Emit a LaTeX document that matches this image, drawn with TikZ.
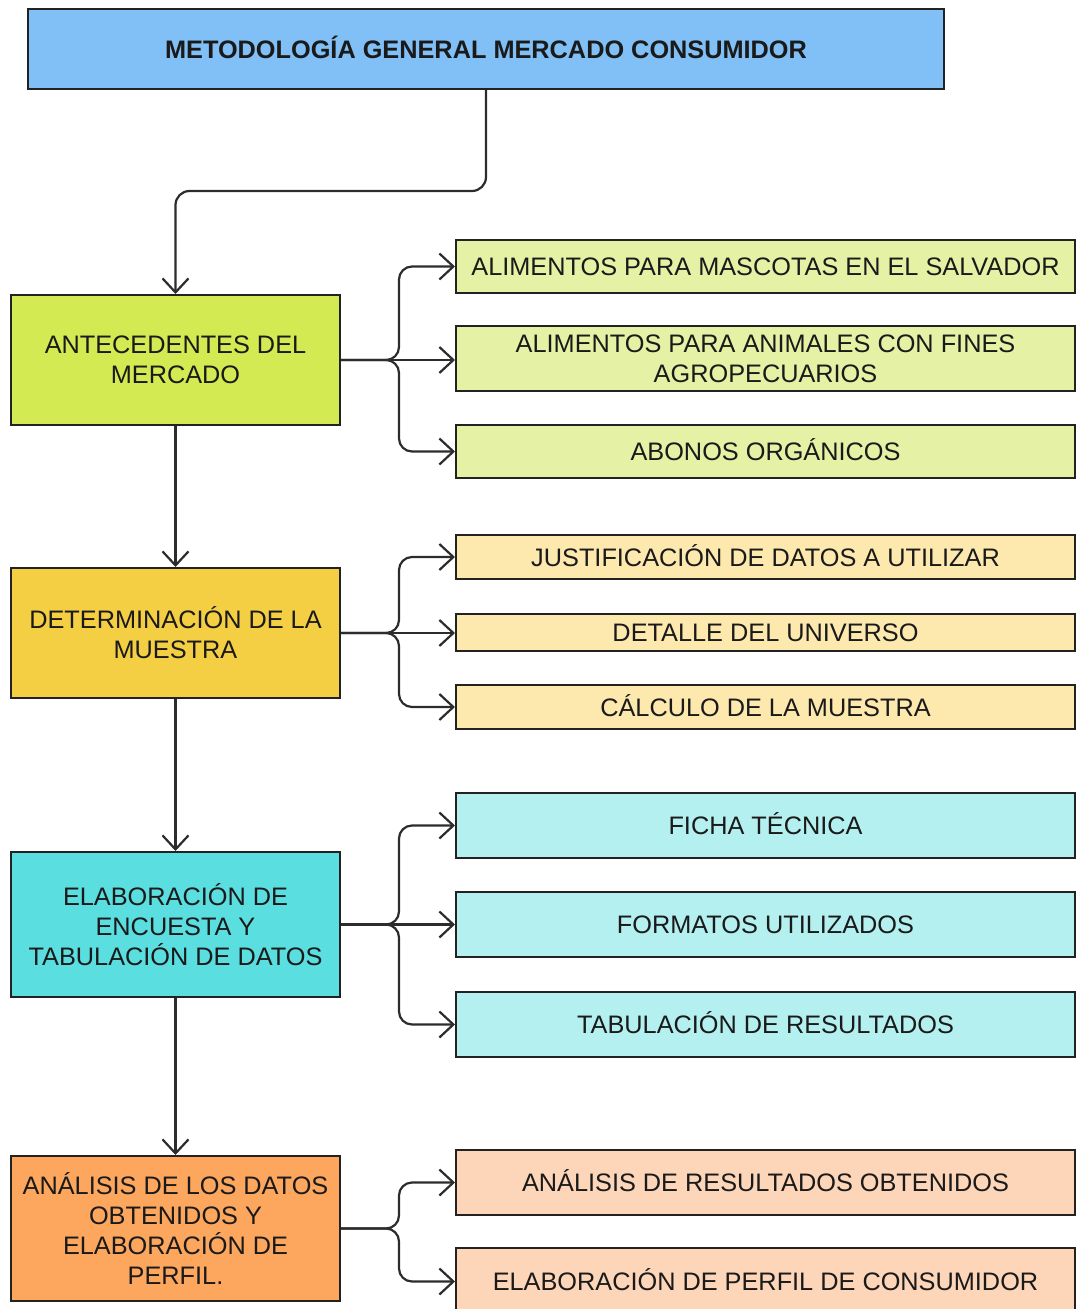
\documentclass[tikz,border=0pt]{standalone}
\usepackage{fontspec}
\setmainfont{Liberation Sans}
\usetikzlibrary{arrows.meta,calc}

\definecolor{ink}{RGB}{26,26,26}
\definecolor{boxline}{RGB}{34,34,34}
\definecolor{wire}{RGB}{44,44,44}
\definecolor{titlefill}{RGB}{128,192,246}
\definecolor{greenA}{RGB}{212,234,82}
\definecolor{greenB}{RGB}{229,242,166}
\definecolor{yellowA}{RGB}{244,207,68}
\definecolor{yellowB}{RGB}{253,233,174}
\definecolor{cyanA}{RGB}{90,222,224}
\definecolor{cyanB}{RGB}{180,240,240}
\definecolor{orangeA}{RGB}{252,166,94}
\definecolor{orangeB}{RGB}{253,214,185}

\begin{document}
\begin{tikzpicture}[x=1pt,y=-1pt,
  box/.style={draw=boxline, line width=2pt, inner sep=0pt, align=center,
    text=ink, font=\fontsize{25.3}{30}\selectfont},
  oneline/.style={text height=18pt, text depth=0pt},
  mainbox/.style={box, minimum width=329pt},
  subbox/.style={box, minimum width=619pt},
  conn/.style={draw=wire, line width=2.2pt,
    -{Straight Barb[length=14pt,width=26pt,line width=2.2pt]}},
  branch/.style={conn, rounded corners=13pt}]
\useasboundingbox (0,0) rectangle (1076,1309);

% title
\node[box, oneline, fill=titlefill, minimum width=916pt, minimum height=80pt,
  font=\fontsize{25.3}{30}\selectfont\bfseries] (title) at (486,49)
  {METODOLOGÍA GENERAL MERCADO CONSUMIDOR};

% main column
\node[mainbox, fill=greenA, minimum height=130pt] (ant) at (175.5,360)
  {ANTECEDENTES DEL\\MERCADO};
\node[mainbox, fill=yellowA, minimum height=130pt] (det) at (175.5,633)
  {DETERMINACIÓN DE LA\\MUESTRA};
\node[mainbox, fill=cyanA, minimum height=145pt] (ela) at (175.5,924.5)
  {ELABORACIÓN DE\\ENCUESTA Y\\TABULACIÓN DE DATOS};
\node[mainbox, fill=orangeA, minimum height=145pt] (ana) at (175.5,1228.5)
  {ANÁLISIS DE LOS DATOS\\OBTENIDOS Y\\ELABORACIÓN DE\\PERFIL.};

% sub-items
\node[subbox, oneline, fill=greenB, minimum height=53pt] (a1) at (765.5,266.5)
  {ALIMENTOS PARA MASCOTAS EN EL SALVADOR};
\node[subbox, fill=greenB, minimum height=65pt] (a2) at (765.5,358.5)
  {ALIMENTOS PARA ANIMALES CON FINES\\AGROPECUARIOS};
\node[subbox, oneline, fill=greenB, minimum height=53pt] (a3) at (765.5,451.5)
  {ABONOS ORGÁNICOS};

\node[subbox, oneline, fill=yellowB, minimum height=44pt] (d1) at (765.5,557)
  {JUSTIFICACIÓN DE DATOS A UTILIZAR};
\node[subbox, oneline, fill=yellowB, minimum height=37pt] (d2) at (765.5,632.5)
  {DETALLE DEL UNIVERSO};
\node[subbox, oneline, fill=yellowB, minimum height=44pt] (d3) at (765.5,707)
  {CÁLCULO DE LA MUESTRA};

\node[subbox, oneline, fill=cyanB, minimum height=65pt] (e1) at (765.5,825.5)
  {FICHA TÉCNICA};
\node[subbox, oneline, fill=cyanB, minimum height=65pt] (e2) at (765.5,924.5)
  {FORMATOS UTILIZADOS};
\node[subbox, oneline, fill=cyanB, minimum height=65pt] (e3) at (765.5,1024.5)
  {TABULACIÓN DE RESULTADOS};

\node[subbox, oneline, fill=orangeB, minimum height=65pt] (n1) at (765.5,1182.5)
  {ANÁLISIS DE RESULTADOS OBTENIDOS};
\node[subbox, oneline, fill=orangeB, minimum height=67pt] (n2) at (765.5,1281.5)
  {ELABORACIÓN DE PERFIL DE CONSUMIDOR};

% title to first step
\draw[conn, rounded corners=14pt] (title.south) -- ++(0,101) -| (ant.north);

% main sequence
\draw[conn] (ant.south) -- (det.north);
\draw[conn] (det.south) -- (ela.north);
\draw[conn] (ela.south) -- (ana.north);

% brace-shaped branches
\draw[branch] (ant.east) -- ++(58,0) |- (a1.west);
\draw[conn]   (ant.east) -- (ant.east -| a2.west);
\draw[branch] (ant.east) -- ++(58,0) |- (a3.west);

\draw[branch] (det.east) -- ++(58,0) |- (d1.west);
\draw[conn]   (det.east) -- (det.east -| d2.west);
\draw[branch] (det.east) -- ++(58,0) |- (d3.west);

\draw[branch] (ela.east) -- ++(58,0) |- (e1.west);
\draw[conn]   (ela.east) -- (ela.east -| e2.west);
\draw[branch] (ela.east) -- ++(58,0) |- (e3.west);

\draw[branch] (ana.east) -- ++(58,0) |- (n1.west);
\draw[branch] (ana.east) -- ++(58,0) |- (n2.west);
\end{tikzpicture}
\end{document}
